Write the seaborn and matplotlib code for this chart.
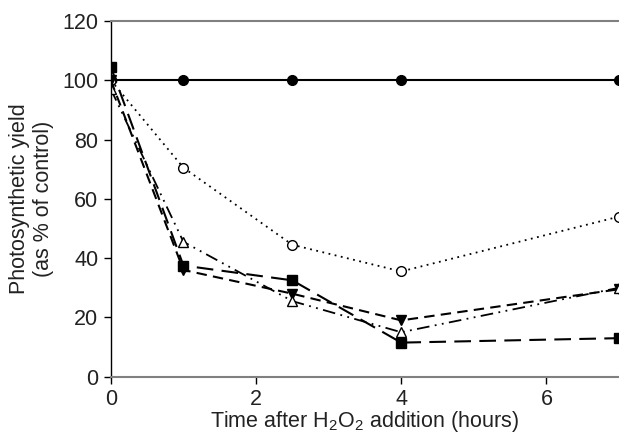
import pandas as pd
import numpy as np
import matplotlib
matplotlib.use("Agg")
import matplotlib.pyplot as plt
import seaborn as sns

# data
hours = [0, 1, 2.5, 4, 7]
control = [100, 100, 100, 100, 100]
open_circle = [100, 70.5, 44.5, 35.5, 54]
filled_square = [104.5, 37.5, 32.5, 11.5, 13]
filled_tri = [100, 36, 28, 19, 29.5]
open_tri = [97, 45.5, 25.5, 15, 30]

sns.set_style("white")
plt.rcParams['font.family'] = ['Liberation Sans', 'DejaVu Sans']
plt.rcParams['mathtext.fontset'] = 'custom'
plt.rcParams['mathtext.rm'] = 'Liberation Sans'

fig = plt.figure(figsize=(6.19, 4.36), dpi=100)
ax = fig.add_axes([0.179, 0.136, 0.821, 0.816])

series = [
    (control, dict(linestyle='-', marker='o', markerfacecolor='black', lw=1.5, ms=7)),
    (open_circle, dict(linestyle=(0, (1, 2.5)), marker='o', markerfacecolor='white', lw=1.3, ms=7)),
    (filled_square, dict(linestyle=(0, (8, 4)), marker='s', markerfacecolor='black', lw=1.5, ms=6.5)),
    (filled_tri, dict(linestyle=(0, (5, 3)), marker='v', markerfacecolor='black', lw=1.5, ms=7)),
    (open_tri, dict(linestyle=(0, (7, 3, 1, 3, 1, 3)), marker='^', markerfacecolor='white', lw=1.3, ms=7)),
]

for vals, st in series:
    df = pd.DataFrame({'hours': hours, 'yield': vals})
    sns.lineplot(data=df, x='hours', y='yield', ax=ax, color='black',
                 markeredgecolor='black', markeredgewidth=1.0, **st)

ax.set_xlim(0, 7)
ax.set_ylim(0, 120)
ax.set_xticks([0, 2, 4, 6])
ax.set_yticks([0, 20, 40, 60, 80, 100, 120])

ax.spines['right'].set_visible(False)
ax.spines['left'].set_color('black')
ax.spines['left'].set_linewidth(1.0)
ax.spines['top'].set_color('#808080')
ax.spines['top'].set_linewidth(1.5)
ax.spines['bottom'].set_color('#808080')
ax.spines['bottom'].set_linewidth(1.5)

ax.tick_params(axis='both', direction='out', length=5, width=1, color='black',
               labelsize=15.5, colors='#222222')
ax.tick_params(axis='x', bottom=True, pad=4)
ax.tick_params(axis='y', left=True, pad=4)

ax.set_xlabel(r'Time after H$_2$O$_2$ addition (hours)', fontsize=15.5, color='#222222', labelpad=-1)
ax.set_ylabel('Photosynthetic yield\n(as % of control)', fontsize=15.5, color='#222222', labelpad=6)

fig.savefig('out.png', dpi=100)
